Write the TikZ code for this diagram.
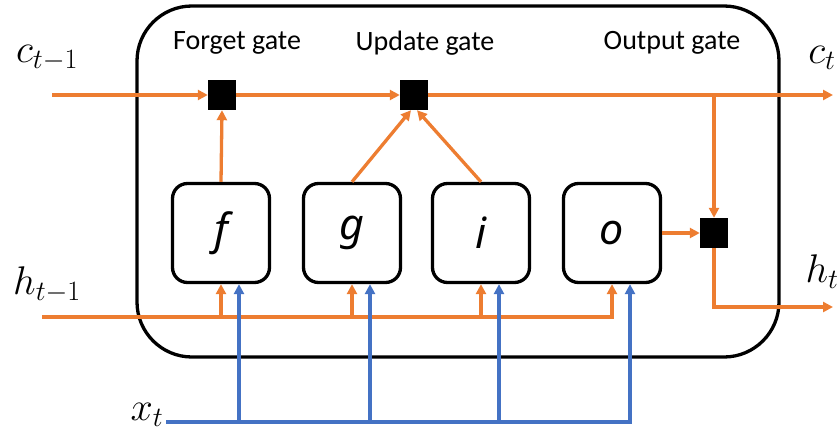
\RequirePackage{fix-cm}
\documentclass[tikz,border=0pt]{standalone}
\usepackage[no-math]{fontspec}
\setmainfont{Carlito}
\newfontfamily\boxfont{Noto Sans}
\usetikzlibrary{arrows.meta}
\definecolor{lstmorange}{HTML}{ED7D31}
\definecolor{lstmblue}{HTML}{4472C4}
\begin{document}
\begin{tikzpicture}[x=1pt,y=-1pt,
  oline/.style={draw=lstmorange,line width=3.3pt},
  bline/.style={draw=lstmblue,line width=3.3pt},
  tip/.style={-{Triangle[length=10pt,width=10pt]}},
  gatesq/.style={fill=black,draw=none,minimum width=28pt,minimum height=30pt,inner sep=0pt},
  fbox/.style={draw=black,line width=3.3pt,rounded corners=15pt,minimum width=97pt,minimum height=99pt,inner sep=0pt,font=\fontsize{43}{45}\boxfont\itshape},
  gatelabel/.style={font=\fontsize{28}{30}\selectfont},
  mlabel/.style={font=\fontsize{40}{42}\selectfont,inner sep=0pt}
]
\useasboundingbox (0,0) rectangle (837,433);
% outer cell
\draw[line width=3.3pt,rounded corners=55pt] (137,6) rectangle (779,357);
\node[gatelabel] (lf) at (237,43) {Forget gate};
\node[gatelabel] (lu) at (425,43) {Update gate};
\node[gatelabel] (lo) at (672,43) {Output gate};
% gates
\node[gatesq] (fg) at (222,95) {};
\node[gatesq] (ug) at (414,95) {};
\node[gatesq] (og) at (714,233) {};
% function boxes
\node[fbox] (f) at (221,233) {f};
\node[fbox] (g) at (352,233) {g};
\node[fbox] (i) at (481,233) {i};
\node[fbox] (o) at (612,233) {o};
% coordinates
\coordinate (cstart) at (52,95);
\coordinate (cend) at (833,95);
\coordinate (hstart) at (42,317);
\coordinate (hend) at (833,307);
\coordinate (xstart) at (166,422);
% labels
\node[mlabel] (lc1) at (47,58) {$c_{t-1}$};
\node[mlabel] (lct) at (822,58) {$c_{t}$};
\node[mlabel] (lh1) at (47,285) {$h_{t-1}$};
\node[mlabel] (lht) at (822,272) {$h_{t}$};
\node[mlabel] (lxt) at (147,415) {$x_{t}$};
% cell state
\draw[oline,tip] (cstart) -- (fg.west);
\draw[oline,tip] (fg.east) -- (ug.west);
\draw[oline,tip] (ug.east) -- (cend);
\draw[oline,tip] (og.north |- cend) -- (og.north);
% gate inputs
\draw[oline,tip] (f.north) -- (fg.south);
\draw[oline,tip] (g.north) -- ([xshift=-3pt]ug.south);
\draw[oline,tip] (i.north) -- ([xshift=3pt]ug.south);
\draw[oline,tip] (o.east) -- (og.west);
\draw[oline,tip] (og.south) |- (hend);
% hidden state bus
\draw[oline,tip] (hstart) -| (o.south);
\foreach \b in {f,g,i}{
  \draw[oline,tip] (\b.south |- hstart) -- (\b.south);
}
% input bus
\draw[bline,tip] (xstart) -| ([xshift=18pt]o.south);
\foreach \b in {f,g,i}{
  \draw[bline,tip] ([xshift=18pt]\b.south |- xstart) -- ([xshift=18pt]\b.south);
}
\end{tikzpicture}
\end{document}
